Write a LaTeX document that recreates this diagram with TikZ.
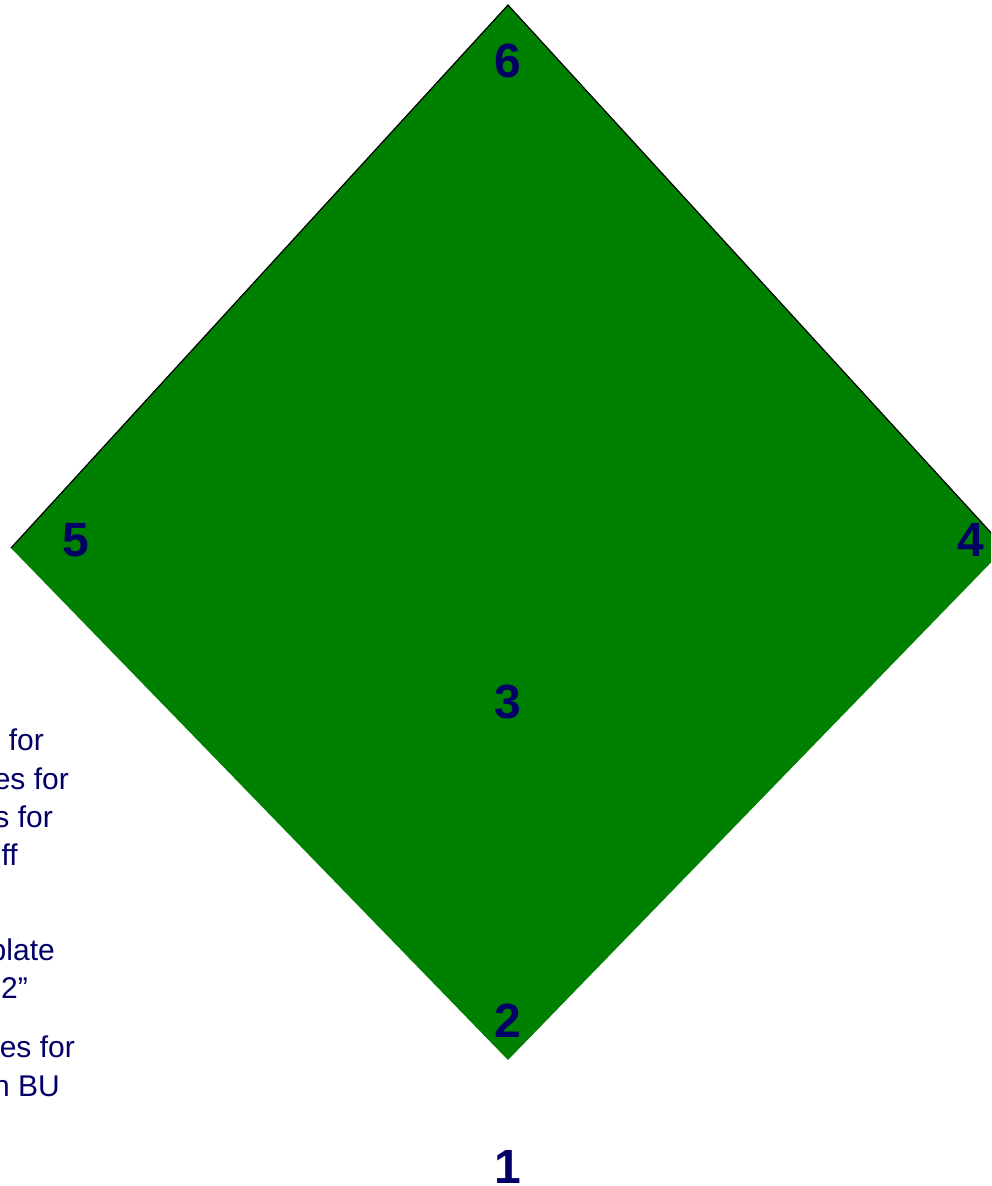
\documentclass[tikz,border=0pt]{standalone}
\usepackage{fontspec}
\setmainfont{Liberation Sans}
\definecolor{fieldgreen}{RGB}{0,128,0}
\definecolor{basenavy}{RGB}{0,0,102}

\begin{document}
\begin{tikzpicture}[x=1pt, y=-1pt,
    base/.style={text=basenavy, font=\bfseries\fontsize{48}{48}\selectfont, inner sep=0pt},
    note/.style={text=basenavy, font=\fontsize{30}{36}\selectfont, inner sep=0pt, anchor=base east}]
    \useasboundingbox (0,0) rectangle (991,1186);
    \clip (0,0) rectangle (991,1186);

    % corners of the field
    \coordinate (top) at (508,5);
    \coordinate (left) at (11,548);
    \coordinate (right) at (1005,548);
    \coordinate (bottom) at (508,1060);

    \fill[fieldgreen] (top) -- (right) -- (bottom) -- (left) -- cycle;
    \draw[black, line width=1.2pt] (left) -- (top) -- (right);

    \node[base] (b6) at (508,61) {6};
    \node[base] (b5) at (76,540) {5};
    \node[base] (b4) at (971,540) {4};
    \node[base] (b3) at (508,702) {3};
    \node[base] (b2) at (508,1021) {2};
    \node[base] (b1) at (508,1167) {1};

    % cut-off text at the left edge
    \foreach \t/\x/\y [count=\i] in {for/44/750, es for/69/789, s for/53/827, ff/18/865,
        plate/55/960, 2”/28/998, es for/75/1057, n BU/60/1096}
        \node[note] (note\i) at (\x,\y) {\t};
\end{tikzpicture}
\end{document}
